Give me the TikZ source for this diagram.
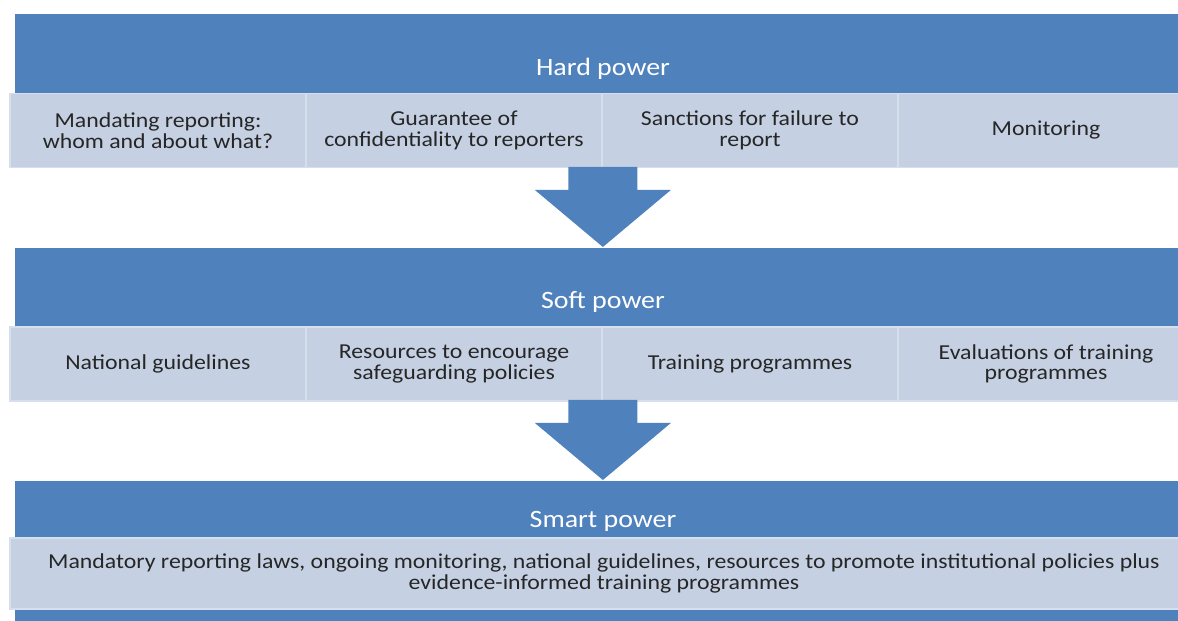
\documentclass[tikz,border=0pt]{standalone}
\usepackage{fontspec}
\setmainfont{Carlito}[FakeStretch = 1.12]
\usetikzlibrary{positioning,calc}

\definecolor{bandblue}{RGB}{79,129,189}
\definecolor{itemfill}{RGB}{197,208,227}
\definecolor{itemline}{RGB}{215,223,236}
\definecolor{itemtext}{RGB}{38,38,38}

\begin{document}
\begin{tikzpicture}[x = 0.02cm, y = -0.02cm,
    band/.style = {fill = bandblue, draw = none, inner sep = 0pt, outer sep = 0pt,
        minimum width = 23.52cm, anchor = north west},
    bandtitle/.style = {text = white, font = \fontsize{14.2}{16}\selectfont},
    item/.style = {fill = itemfill, draw = itemline, line width = 1.1pt,
        inner sep = 0pt, outer sep = 0pt, minimum width = 5.92cm, minimum height = 1.48cm,
        align = center, text = itemtext, font = \fontsize{12.1}{11.8}\selectfont},
    downarrow/.style = {fill = bandblue, draw = none}]

% The page is the size of the picture, the right side is cut off.
    \useasboundingbox (0, 0) rectangle (1178, 621);
    \clip (0, 0) rectangle (1178, 621);

% Hard power.
    \node [band, minimum height = 3.06cm] (hard) at (15, 14) {};
    \node [bandtitle] (hardtitle) at (603, 68.5) {Hard power};
    \node [item] (hard1) at (158, 130.5) {Mandating reporting:\\whom and about what?};
    \node [item] (hard2) at (454, 130.5) {Guarantee of\\confidentiality to reporters};
    \node [item] (hard3) at (750, 130.5) {Sanctions for failure to\\report};
    \node [item] (hard4) at (1046, 130.5) {Monitoring};

% Soft power.
    \node [band, minimum height = 3.04cm] (soft) at (15, 248) {};
    \node [bandtitle] (softtitle) at (603, 301.5) {Soft power};
    \node [item] (soft1) at (158, 364) {National guidelines};
    \node [item] (soft2) at (454, 364) {Resources to encourage\\safeguarding policies};
    \node [item] (soft3) at (750, 364) {Training programmes};
    \node [item] (soft4) at (1046, 364) {Evaluations of training\\programmes};

% Smart power, the band runs on below the picture.
    \node [band, minimum height = 3.2cm] (smart) at (15, 481) {};
    \node [bandtitle] (smarttitle) at (603, 521.5) {Smart power};
    \node [item, minimum width = 23.76cm, minimum height = 1.42cm] (smart1) at (604, 573.5)
        {Mandatory reporting laws, ongoing monitoring, national guidelines, resources to promote institutional policies plus\\[0.5pt]evidence-informed training programmes};

% The block arrows go from the bottom of one band to the top of the next one.
    \fill [downarrow] ($(hard.south) + (-34.5, 0)$) -- ($(hard.south) + (34.5, 0)$)
        -- ($(hard.south) + (34.5, 23)$) -- ($(hard.south) + (68, 23)$)
        -- ($(soft.north) + (0, -1)$) -- ($(hard.south) + (-68, 23)$)
        -- ($(hard.south) + (-34.5, 23)$) -- cycle;
    \fill [downarrow] ($(soft.south) + (-34.5, 0)$) -- ($(soft.south) + (34.5, 0)$)
        -- ($(soft.south) + (34.5, 23)$) -- ($(soft.south) + (68, 23)$)
        -- ($(smart.north) + (0, -1)$) -- ($(soft.south) + (-68, 23)$)
        -- ($(soft.south) + (-34.5, 23)$) -- cycle;

\end{tikzpicture}
\end{document}
